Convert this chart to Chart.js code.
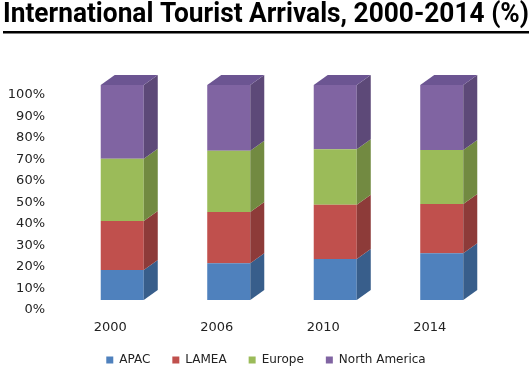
<!DOCTYPE html>
<html>
<head>
<meta charset="utf-8">
<script src="https://cdn.jsdelivr.net/npm/chart.js@4"></script>
<style>
  body { margin: 0; background: #fff; }
  canvas { display: block; }
</style>
</head>
<body>
<canvas id="tourismChart" width="532" height="367"></canvas>
<script>
const years = ['2000', '2006', '2010', '2014'];
const apac = [14.0, 17.1, 19.1, 21.7];
const lamea = [22.7, 23.8, 25.2, 23.0];
const europe = [29.0, 28.5, 25.8, 25.1];
const northAmerica = [34.3, 30.6, 29.9, 30.2];
const yTicks = [0, 10, 20, 30, 40, 50, 60, 70, 80, 90, 100];

// side shades for the fake 3d look
const sideColors = ['#385E8B', '#8D3B39', '#728A41', '#5D4978'];
const topColor = '#6C5592';

const bars3d = {
    id: 'bars3d',
    afterDatasetsDraw(chart) {
        const ctx = chart.ctx;
        const dx = 14, dy = -10;
        const last = chart.data.datasets.length - 1;
        ctx.save();
        chart.data.datasets.forEach((ds, i) => {
            const meta = chart.getDatasetMeta(i);
            meta.data.forEach(bar => {
                const p = bar.getProps(['x', 'y', 'base', 'width'], true);
                const left = p.x - p.width / 2;
                const right = p.x + p.width / 2;
                ctx.fillStyle = sideColors[i];
                ctx.beginPath();
                ctx.moveTo(right, p.y);
                ctx.lineTo(right + dx, p.y + dy);
                ctx.lineTo(right + dx, p.base + dy);
                ctx.lineTo(right, p.base);
                ctx.closePath();
                ctx.fill();
                if (i === last) {
                    ctx.fillStyle = topColor;
                    ctx.beginPath();
                    ctx.moveTo(left, p.y);
                    ctx.lineTo(left + dx, p.y + dy);
                    ctx.lineTo(right + dx, p.y + dy);
                    ctx.lineTo(right, p.y);
                    ctx.closePath();
                    ctx.fill();
                }
            });
        });
        ctx.restore();
    }
};

const titleUnderline = {
    id: 'titleUnderline',
    afterDraw(chart) {
        const ctx = chart.ctx;
        const tb = chart.titleBlock;
        const font = Chart.helpers.toFont(chart.options.plugins.title.font);
        ctx.save();
        ctx.font = font.string;
        const w = Math.min(ctx.measureText(chart.options.plugins.title.text).width, tb.width);
        const cx = (tb.left + tb.right) / 2;
        ctx.fillStyle = '#000';
        ctx.fillRect(cx - w / 2, tb.top + 31, w, 2.5);
        ctx.restore();
    }
};

new Chart(document.getElementById('tourismChart'), {
    type: 'bar',
    data: {
        labels: years,
        datasets: [
            { label: 'APAC', data: apac, backgroundColor: '#4F81BD' },
            { label: 'LAMEA', data: lamea, backgroundColor: '#C0504D' },
            { label: 'Europe', data: europe, backgroundColor: '#9BBB59' },
            { label: 'North America', data: northAmerica, backgroundColor: '#8064A2' }
        ]
    },
    options: {
        responsive: false,
        animation: false,
        categoryPercentage: 1.0,
        barPercentage: 0.404,
        layout: { padding: { left: 3, right: 3, top: 0, bottom: 0 } },
        plugins: {
            title: {
                display: true,
                text: 'International Tourist Arrivals, 2000-2014 (%)',
                color: '#000',
                font: { family: 'Roboto', size: 28, weight: 'bold', lineHeight: 1.0 },
                padding: { top: 1, bottom: 56 }
            },
            legend: {
                position: 'bottom',
                maxHeight: 35,
                labels: {
                    boxWidth: 7,
                    boxHeight: 7,
                    padding: 22,
                    color: '#222',
                    font: { family: 'DejaVu Sans', size: 12 }
                }
            },
            tooltip: { enabled: false }
        },
        scales: {
            x: {
                stacked: true,
                grid: { display: false, drawTicks: false },
                border: { display: false },
                ticks: {
                    color: '#222',
                    padding: 20,
                    labelOffset: -12,
                    font: { family: 'DejaVu Sans', size: 13 }
                },
                afterFit(scale) { scale.height = 32; }
            },
            y: {
                stacked: true,
                min: 0,
                max: 100,
                grid: { display: false, drawTicks: false },
                border: { display: false },
                afterBuildTicks(scale) { scale.ticks = yTicks.map(v => ({ value: v })); },
                ticks: {
                    color: '#222',
                    padding: 24,
                    labelOffset: 10,
                    font: { family: 'DejaVu Sans', size: 13 },
                    callback: v => v + '%'
                },
                afterFit(scale) { scale.width = 66; }
            },
            // empty right axis, only reserves the space right of the bars
            yRight: {
                position: 'right',
                grid: { display: false, drawTicks: false },
                border: { display: false },
                ticks: { display: false },
                afterFit(scale) { scale.width = 34; }
            }
        }
    },
    plugins: [bars3d, titleUnderline]
});
</script>
</body>
</html>
